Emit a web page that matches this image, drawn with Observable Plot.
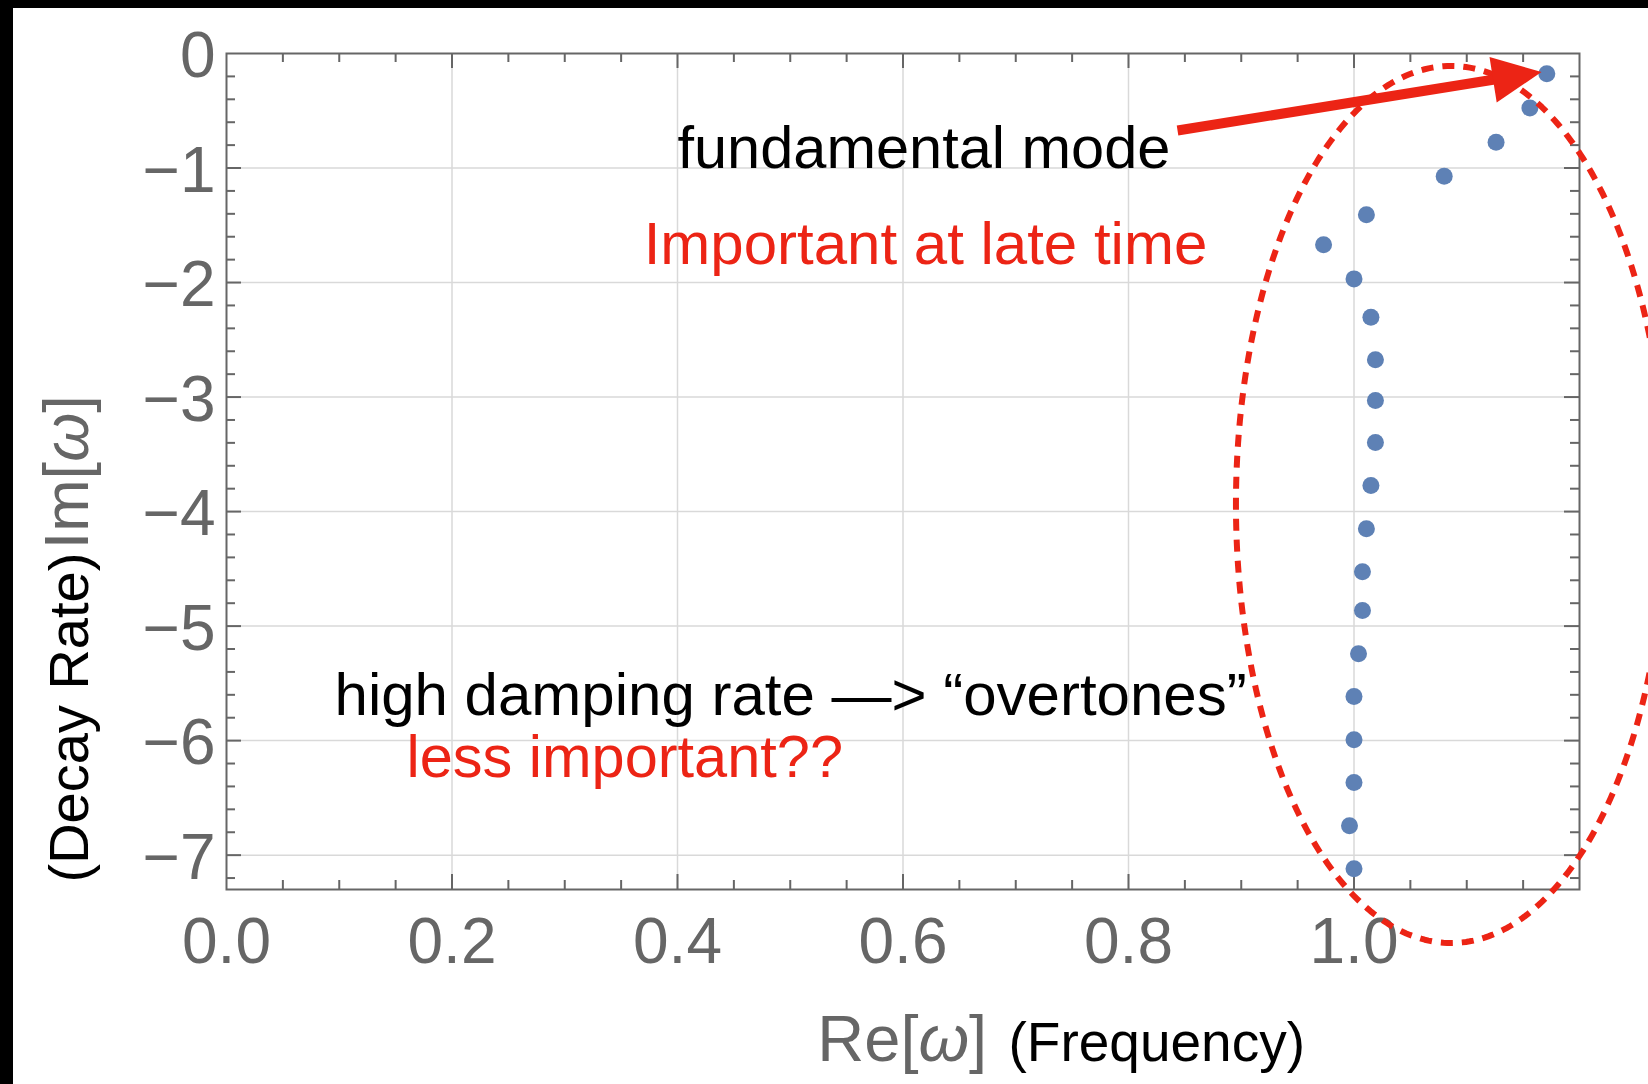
<!DOCTYPE html>
<html>
<head>
<meta charset="utf-8">
<script src="https://cdn.jsdelivr.net/npm/d3@7"></script>
<script src="https://cdn.jsdelivr.net/npm/@observablehq/plot@0.6"></script>
<style>
  html, body { margin: 0; padding: 0; background: #fff; }
  #chart { position: relative; width: 1648px; height: 1084px; overflow: hidden; background: #fff; }
  #chart svg { position: absolute; left: 0; top: 0; }
  .edge { position: absolute; background: #000; z-index: 2; }
</style>
</head>
<body>
<div id="chart">
  <div class="edge" style="left:0;top:0;width:1648px;height:8px"></div>
  <div class="edge" style="left:0;top:0;width:13px;height:1084px"></div>
</div>
<script>
// Quasinormal mode frequencies ω: real part (oscillation frequency), imaginary part (decay rate)
const reOmega = [1.171, 1.156, 1.126, 1.080, 1.011, 0.973, 1.000, 1.015, 1.019, 1.019,
                 1.019, 1.015, 1.011, 1.0075, 1.0075, 1.004, 1.000, 1.000, 1.000, 0.996, 1.000];
const imOmega = [-0.176, -0.475, -0.775, -1.072, -1.409, -1.670, -1.968, -2.304, -2.675, -3.030,
                 -3.396, -3.772, -4.149, -4.525, -4.864, -5.241, -5.614, -5.993, -6.366, -6.743, -7.119];

// Axis ticks
const xLabelTicks = [0, 0.2, 0.4, 0.6, 0.8, 1.0];
const yLabelTicks = [0, -1, -2, -3, -4, -5, -6, -7];
const xGrid = [0.2, 0.4, 0.6, 0.8, 1.0];
const yGrid = [-1, -2, -3, -4, -5, -6, -7];
const xMinor = d3.range(1, 24).map(i => i * 0.05).filter((v, i) => (i + 1) % 4 !== 0);
const yMinor = d3.range(1, 37).map(i => -i * 0.2).filter((v, i) => (i + 1) % 5 !== 0);

// Annotations (in data units)
const fundamentalArrow = {x1: 0.8435, y1: -0.672, x2: 1.126, y2: -0.225};
const overtoneEllipse = {cx: 1.086, cy: -3.938, rx: 0.1907, ry: 3.829};
const notes = [
  {text: "fundamental mode", x: 0.400, y: -1.0, color: "#000000", size: 59.5},
  {text: "Important at late time", x: 0.370, y: -1.842, color: "#ec2415", size: 60},
  {text: "high damping rate \u2014> \u201Covertones\u201D", x: 0.0958, y: -5.772, color: "#000000", size: 60},
  {text: "less important??", x: 0.1596, y: -6.322, color: "#ec2415", size: 59.5}
];

const modes = reOmega.map((re, i) => ({re, im: imOmega[i]}));

const W = 1648, H = 1084;
const margin = {left: 226, right: 69, top: 53, bottom: 195};
const frameW = W - margin.left - margin.right;
const frameH = H - margin.top - margin.bottom;
const axisGray = "#666666";
const red = "#ec2415";
const majorLen = 15, minorLen = 9;

const ellipsePts = d3.range(0, 361, 1).map(a => {
  const t = a * Math.PI / 180;
  return {x: overtoneEllipse.cx + overtoneEllipse.rx * Math.cos(t),
          y: overtoneEllipse.cy + overtoneEllipse.ry * Math.sin(t)};
});

// Filled arrow head, pointing up from its base midpoint
const arrowHead = {
  draw(context) {
    context.moveTo(0, -46);
    context.lineTo(23, 3);
    context.lineTo(-23, 3);
    context.closePath();
  }
};

const tickStyle = {stroke: axisGray, strokeWidth: 2};

const svg = Plot.plot({
  width: W,
  height: H,
  marginLeft: margin.left,
  marginRight: margin.right,
  marginTop: margin.top,
  marginBottom: margin.bottom,
  style: {fontFamily: "'Liberation Sans', Arial, sans-serif", background: "transparent"},
  x: {domain: [0, 1.2], label: null},
  y: {domain: [-7.3, 0], label: null},
  marks: [
    Plot.gridX(xGrid, {stroke: "#d9d9d9", strokeOpacity: 1, strokeWidth: 1.5}),
    Plot.gridY(yGrid, {stroke: "#d9d9d9", strokeOpacity: 1, strokeWidth: 1.5}),
    // inward ticks on all four sides
    Plot.tickX(xGrid, {x: d => d, insetTop: frameH - majorLen, ...tickStyle}),
    Plot.tickX(xGrid, {x: d => d, insetBottom: frameH - majorLen, ...tickStyle}),
    Plot.tickX(xMinor, {x: d => d, insetTop: frameH - minorLen, ...tickStyle}),
    Plot.tickX(xMinor, {x: d => d, insetBottom: frameH - minorLen, ...tickStyle}),
    Plot.tickY(yGrid, {y: d => d, insetRight: frameW - majorLen, ...tickStyle}),
    Plot.tickY(yGrid, {y: d => d, insetLeft: frameW - majorLen, ...tickStyle}),
    Plot.tickY(yMinor, {y: d => d, insetRight: frameW - minorLen, ...tickStyle}),
    Plot.tickY(yMinor, {y: d => d, insetLeft: frameW - minorLen, ...tickStyle}),
    Plot.frame({stroke: axisGray, strokeWidth: 2}),
    Plot.axisX(xLabelTicks, {anchor: "bottom", tickSize: 0, tickPadding: 28, fontSize: 64,
      fill: axisGray, tickFormat: d => d.toFixed(1), label: null}),
    Plot.axisY(yLabelTicks, {anchor: "left", tickSize: 0, tickPadding: 11, fontSize: 64, dy: 3,
      fill: axisGray, tickFormat: d => d === 0 ? "0" : "\u2212" + Math.abs(d), label: null}),
    // axis titles
    Plot.text(["Re[ω]"], {x: [0.524], frameAnchor: "bottom", dy: 171, textAnchor: "start",
      lineAnchor: "bottom", fontSize: 65, fill: axisGray}),
    Plot.text(["(Frequency)"], {x: [0.6936], frameAnchor: "bottom", dy: 171, textAnchor: "start",
      lineAnchor: "bottom", fontSize: 55, fill: "#000"}),
    Plot.text(["(Decay Rate)"], {x: [-0.1224], y: [-7.239], rotate: -90, textAnchor: "start",
      lineAnchor: "bottom", fontSize: 56, fill: "#000"}),
    Plot.text(["Im[ω]"], {x: [-0.1224], y: [-4.33], rotate: -90, textAnchor: "start",
      lineAnchor: "bottom", fontSize: 63, fill: axisGray}),
    // modes
    Plot.dot(modes, {x: "re", y: "im", r: 8.5, fill: "#5e81b5", stroke: "none"}),
    // annotations
    Plot.line(ellipsePts, {x: "x", y: "y", stroke: red, strokeWidth: 6, strokeDasharray: "12,9",
      curve: "linear", strokeLinecap: "butt"}),
    Plot.link([fundamentalArrow], {x1: "x1", y1: "y1", x2: "x2", y2: "y2", stroke: red, strokeWidth: 10}),
    Plot.dot([fundamentalArrow], {x: "x2", y: "y2", symbol: arrowHead, rotate: 81, fill: red, stroke: "none"}),
    ...notes.map(n => Plot.text([n], {x: "x", y: "y", text: "text", textAnchor: "start",
      lineAnchor: "bottom", fontSize: n.size, fill: n.color}))
  ]
});

// italic omega in the axis titles
d3.select(svg).selectAll("text").each(function() {
  const s = this.textContent;
  const i = s.indexOf("ω");
  if (i < 0 || this.children.length) return;
  const t = d3.select(this);
  t.text(null);
  t.append("tspan").text(s.slice(0, i));
  t.append("tspan").attr("font-style", "italic").text("ω");
  t.append("tspan").text(s.slice(i + 1));
});

document.getElementById("chart").prepend(svg);
</script>
</body>
</html>
